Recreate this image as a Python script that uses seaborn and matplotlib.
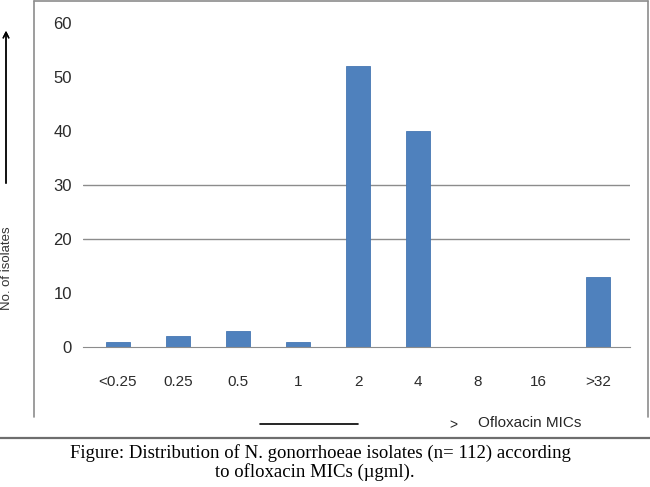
import matplotlib.pyplot as plt
import seaborn as sns
from matplotlib.lines import Line2D

mic_labels = ['<0.25', '0.25', '0.5', '1', '2', '4', '8', '16', '>32']
isolates = [1, 2, 3, 1, 52, 40, 0, 0, 13]
y_ticks = [0, 10, 20, 30, 40, 50, 60]
grid_values = [20, 30]
caption_1 = 'Figure: Distribution of N. gonorrhoeae isolates (n= 112) according'
caption_2 = 'to ofloxacin MICs (\u00b5gml).'

sns.set_style('white')
plt.rcParams['font.family'] = ['Liberation Sans', 'DejaVu Sans']

W, H = 650, 487


def px(x, y):
    # pixel position -> figure fraction
    return x / W, 1 - y / H


fig = plt.figure(figsize=(6.5, 4.87), dpi=100)
ax = fig.add_axes([83 / W, 1 - 347 / H, 547 / W, 324 / H])
sns.barplot(x=mic_labels, y=isolates, color='#4F81BD', saturation=1,
            width=0.4, edgecolor='#4677B3', linewidth=0.6, ax=ax)
ax.set_xlim(-0.58, 8.53)
ax.set_ylim(0, 60)
ax.set_yticks(y_ticks)
for g in grid_values:
    ax.axhline(g, color='#8c8c8c', lw=1, zorder=0)
for s in ['left', 'right', 'top']:
    ax.spines[s].set_visible(False)
ax.spines['bottom'].set_color('#8c8c8c')
ax.set_xticks([1.5, 2.5, 3.5, 4.5, 6.5], minor=True)
ax.tick_params(axis='x', which='minor', length=5, width=1, color='#8c8c8c', direction='out')
ax.tick_params(axis='x', which='major', length=0, pad=20, labelsize=11, colors='#2b2b2b')
ax.tick_params(axis='y', length=0, pad=8, labelsize=12, colors='#2b2b2b')
ax.set_xlabel('')
ax.set_ylabel('')

# outer frame (left, top, right)
frame_c = '#8c8c8c'
for (x0, y0), (x1, y1) in [((34, 417), (34, 1)), ((34, 1), (648, 1)), ((648, 1), (648, 417))]:
    a, b = px(x0, y0)
    c, d = px(x1, y1)
    fig.add_artist(Line2D([a, c], [b, d], transform=fig.transFigure, color=frame_c, lw=1.2))

# separator above caption
a, b = px(0, 438)
c, d = px(650, 438)
fig.add_artist(Line2D([a, c], [b, d], transform=fig.transFigure, color='#6e6e6e', lw=1.6))

# y label with arrow
fig.add_artist(plt.annotate('', xy=px(6, 28), xytext=px(6, 186), xycoords='figure fraction',
                            textcoords='figure fraction',
                            arrowprops=dict(arrowstyle='->', color='black', lw=1)))
fig.text(*px(7, 268), 'No. of isolates', rotation=90, ha='center', va='center',
         fontsize=9.5, color='#333333')

# x label "arrow"
a, b = px(260, 424)
c, d = px(358, 424)
fig.add_artist(Line2D([a, c], [b, d], transform=fig.transFigure, color='black', lw=1.2))
fig.text(*px(453, 425), '>', ha='center', va='center', fontsize=10, color='#262626')
fig.text(*px(478, 423), 'Ofloxacin MICs', ha='left', va='center', fontsize=11, color='#262626')

# caption
fig.text(*px(70, 453), caption_1, ha='left', va='center', fontsize=13.5,
         family='Liberation Serif', color='black')
fig.text(*px(215, 472), caption_2, ha='left', va='center', fontsize=13.5,
         family='Liberation Serif', color='black')

fig.savefig('out.png', dpi=100)
